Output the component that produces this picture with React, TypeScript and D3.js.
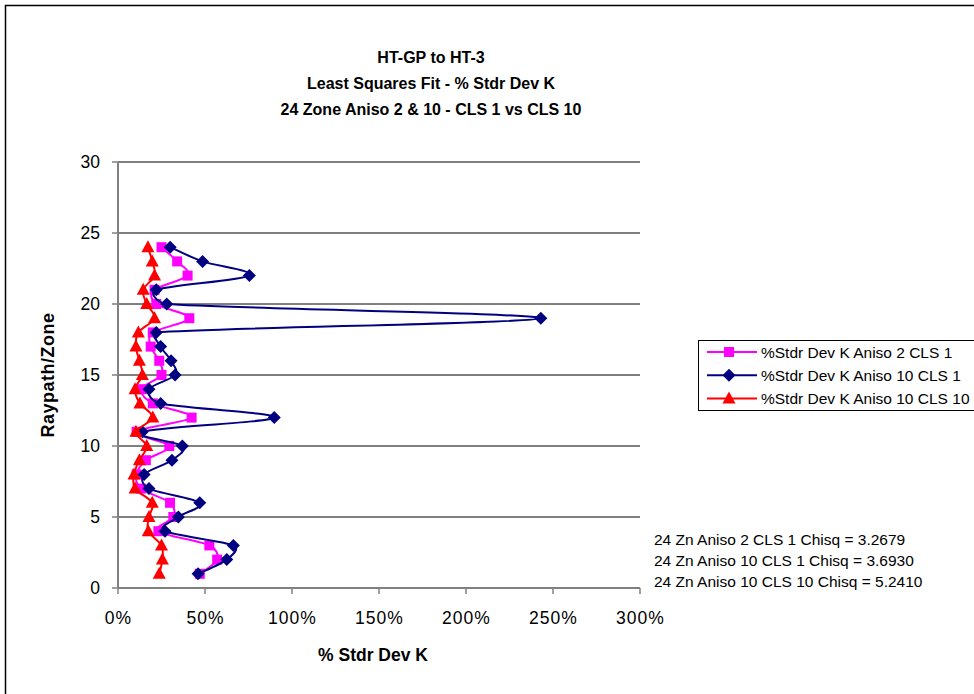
import * as d3 from "d3";

const zones = [1, 2, 3, 4, 5, 6, 7, 8, 9, 10, 11, 12, 13, 14, 15, 16, 17, 18, 19, 20, 21, 22, 23, 24];
const aniso2Cls1 = [47, 57, 52.5, 23.2, 31.8, 29.9, 13.2, 10.7, 16, 29.5, 10.7, 42.3, 20, 13.6, 25, 23.7, 18.8, 20, 41, 22, 21, 40, 34, 25];
const aniso10Cls1 = [46, 62.5, 66.3, 27, 34.7, 47, 17.8, 15, 31, 37, 14, 89.8, 24.5, 17.8, 32.8, 30.5, 24.5, 22, 243, 28, 22, 75.5, 48.6, 30];
const aniso10Cls10 = [23.7, 25.5, 25, 17.4, 17.8, 19.7, 9.8, 9.2, 12.3, 16.5, 10.3, 20, 12.6, 9.8, 14, 12.3, 10.3, 11.7, 21, 16.5, 14.5, 21, 19.7, 17.2];

const seriesNames = [
  "%Stdr Dev K Aniso 2 CLS 1",
  "%Stdr Dev K Aniso 10 CLS 1",
  "%Stdr Dev K Aniso 10 CLS 10",
];
const chisqNotes = [
  "24 Zn Aniso 2 CLS 1 Chisq = 3.2679",
  "24 Zn Aniso 10 CLS 1 Chisq = 3.6930",
  "24 Zn Aniso 10 CLS 10 Chisq = 5.2410",
];
const titleLines = ["HT-GP to HT-3", "Least Squares Fit - % Stdr Dev K", "24 Zone Aniso 2 & 10 - CLS 1 vs CLS 10"];
const xTicks = [0, 50, 100, 150, 200, 250, 300];
const yTicks = [0, 5, 10, 15, 20, 25, 30];

const font = "Liberation Sans, Arial, sans-serif";

type Shape = "square" | "diamond" | "triangle";
type Pt = [number, number];

// excel-style smoothed line: bezier with 1/6 tension, control arms capped at half the segment
function smoothPath(p: Pt[]) {
  const path = d3.path();
  const dist = (a: Pt, b: Pt) => Math.hypot(a[0] - b[0], a[1] - b[1]);
  path.moveTo(p[0][0], p[0][1]);
  for (let i = 0; i < p.length - 1; i++) {
    const p0 = p[Math.max(i - 1, 0)];
    const p1 = p[i];
    const p2 = p[i + 1];
    const p3 = p[Math.min(i + 2, p.length - 1)];
    const d12 = dist(p1, p2);
    const d02 = dist(p0, p2);
    const d13 = dist(p1, p3);
    let f1 = 1 / 6;
    let f2 = 1 / 6;
    if (d02 / 6 > d12 / 2 && d02 > 0) f1 = d12 / d02 / 2;
    if (d13 / 6 > d12 / 2 && d13 > 0) f2 = d12 / d13 / 2;
    path.bezierCurveTo(
      p1[0] + f1 * (p2[0] - p0[0]),
      p1[1] + f1 * (p2[1] - p0[1]),
      p2[0] - f2 * (p3[0] - p1[0]),
      p2[1] - f2 * (p3[1] - p1[1]),
      p2[0],
      p2[1]
    );
  }
  return path.toString();
}

function Marker({ shape, x, y, color }: { shape: Shape; x: number; y: number; color: string }) {
  if (shape === "square") return <rect x={x - 5} y={y - 5} width={10} height={10} fill={color} />;
  if (shape === "diamond")
    return <path d={`M${x},${y - 6.5}L${x + 6.5},${y}L${x},${y + 6.5}L${x - 6.5},${y}Z`} fill={color} />;
  return <path d={`M${x},${y - 7}L${x + 6.5},${y + 5}L${x - 6.5},${y + 5}Z`} fill={color} />;
}

export default function App() {
  const W = 974;
  const H = 694;
  const x = d3.scaleLinear().domain([0, 300]).range([118, 640]);
  const y = d3.scaleLinear().domain([0, 30]).range([588, 162]);

  const series = [
    { name: seriesNames[0], values: aniso2Cls1, color: "#FF00FF", shape: "square" as Shape },
    { name: seriesNames[1], values: aniso10Cls1, color: "#000080", shape: "diamond" as Shape },
    { name: seriesNames[2], values: aniso10Cls10, color: "#FF0000", shape: "triangle" as Shape },
  ];

  return (
    <svg width={W} height={H} style={{ position: "absolute", left: 0, top: 0, background: "#fff" }} fontFamily={font}>
      <rect x={5.5} y={5.5} width={990} height={710} fill="none" stroke="#000" strokeWidth={1.5} />

      {titleLines.map((t, i) => (
        <text key={i} x={431} y={63 + i * 26} textAnchor="middle" fontSize={16} fontWeight="bold">
          {t}
        </text>
      ))}

      {/* gridlines */}
      {yTicks.slice(1).map((t) => (
        <line key={t} x1={x(0)} x2={x(300)} y1={y(t)} y2={y(t)} stroke="#000" strokeWidth={1} />
      ))}

      {/* axes */}
      <line x1={x(0)} x2={x(0)} y1={y(0)} y2={y(30)} stroke="#808080" strokeWidth={2} />
      <line x1={x(0)} x2={x(300)} y1={y(0)} y2={y(0)} stroke="#808080" strokeWidth={2} />
      {yTicks.map((t) => (
        <g key={t}>
          <line x1={x(0) - 6} x2={x(0)} y1={y(t)} y2={y(t)} stroke="#808080" strokeWidth={1.5} />
          <text x={100} y={y(t) + 6} textAnchor="end" fontSize={17.5}>
            {t}
          </text>
        </g>
      ))}
      {xTicks.map((t) => (
        <g key={t}>
          <line x1={x(t)} x2={x(t)} y1={y(0)} y2={y(0) + 6} stroke="#808080" strokeWidth={1.5} />
          <text x={x(t) + 0.5} y={624} textAnchor="middle" fontSize={17.5} letterSpacing={1}>
            {t}%
          </text>
        </g>
      ))}

      <text x={373} y={661} textAnchor="middle" fontSize={17.5} fontWeight="bold">
        % Stdr Dev K
      </text>
      <text transform="translate(54,375) rotate(-90)" textAnchor="middle" fontSize={18} fontWeight="bold" letterSpacing={0.5}>
        Raypath/Zone
      </text>

      {/* series */}
      {series.map((s) => {
        const pts = zones.map((z, i) => [x(s.values[i]), y(z)] as Pt);
        return (
          <g key={s.name}>
            <path d={smoothPath(pts)} fill="none" stroke={s.color} strokeWidth={2} />
            {pts.map((p, i) => (
              <Marker key={i} shape={s.shape} x={p[0]} y={p[1]} color={s.color} />
            ))}
          </g>
        );
      })}

      {/* legend */}
      <rect x={698.5} y={340.5} width={290} height={70} fill="#fff" stroke="#000" strokeWidth={1} />
      {series.map((s, i) => {
        const ly = 352 + i * 23.3;
        return (
          <g key={s.name}>
            <line x1={707} x2={757} y1={ly} y2={ly} stroke={s.color} strokeWidth={2} />
            <Marker shape={s.shape} x={729} y={ly} color={s.color} />
            <text x={761} y={ly + 5.5} fontSize={15.5}>
              {s.name}
            </text>
          </g>
        );
      })}

      {chisqNotes.map((t, i) => (
        <text key={i} x={654} y={545 + i * 21} fontSize={15.5}>
          {t}
        </text>
      ))}
    </svg>
  );
}
